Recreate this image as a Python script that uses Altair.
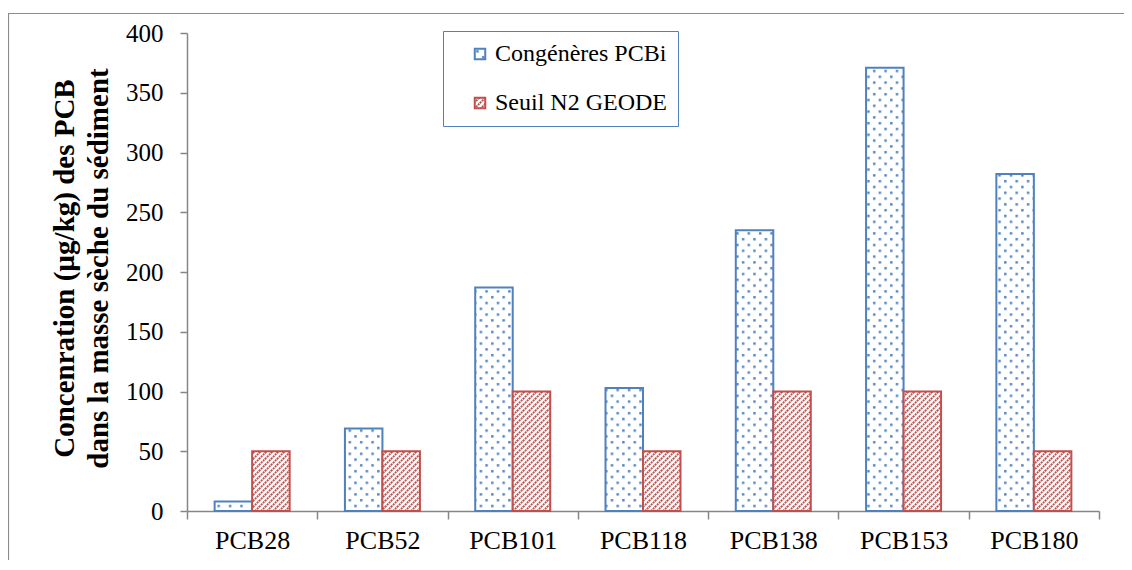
import altair as alt
import pandas as pd

# ---------------- data ----------------
categories = ["PCB28", "PCB52", "PCB101", "PCB118", "PCB138", "PCB153", "PCB180"]
series = ["Congénères PCBi", "Seuil N2 GEODE"]
pcbi_values = [8, 69, 187, 103, 235, 371, 282]
seuil_values = [50, 50, 100, 50, 100, 100, 50]
y_ticks = [0, 50, 100, 150, 200, 250, 300, 350, 400]
y_title = ["Concenration (µg/kg) des PCB", "dans la masse sèche du sédiment"]

rows = []
for c, v in zip(categories, pcbi_values):
    rows.append({"PCB": c, "Série": series[0], "Valeur": v})
for c, v in zip(categories, seuil_values):
    rows.append({"PCB": c, "Série": series[1], "Valeur": v})
df = pd.DataFrame(rows)

BLUE = "#4f81bd"
RED = "#c0504d"
GREY = "#868686"
FONT = "Liberation Serif"

# pattern fills (SVG patterns, with a plain fallback colour)
DOTS = "url(#pcbdots) #e8eef7"
HATCH = "url(#pcbhatch) #f3dede"

DEFS = """
<svg width="0" height="0" style="position:absolute;width:0;height:0;overflow:hidden" aria-hidden="true">
<defs>
<pattern id="pcbdots" patternUnits="userSpaceOnUse" width="11.4" height="11.6">
<rect width="11.4" height="11.6" fill="#ffffff"/>
<rect x="2" y="2" width="2.4" height="2.4" fill="#4f81bd"/>
<rect x="7.7" y="7.8" width="2.4" height="2.4" fill="#4f81bd"/>
</pattern>
<pattern id="pcbhatch" patternUnits="userSpaceOnUse" width="6" height="6">
<rect width="6" height="6" fill="#ffffff"/>
<path d="M-1,1 l2,-2 M0,6 l6,-6 M5,7 l2,-2" stroke="#c0504d" stroke-width="1.8" stroke-dasharray="2,0.8"/>
</pattern>
</defs>
</svg>
"""

try:
    import altair.utils.html as _h
    _orig_tpl = _h.TEMPLATES["standard"]

    class _PatternTemplate:
        def render(self, *a, **k):
            html = _orig_tpl.render(*a, **k)
            if "<body>" in html:
                return html.replace("<body>", "<body>" + DEFS, 1)
            return html.replace("</body>", DEFS + "</body>", 1)

    _h.TEMPLATES["standard"] = _PatternTemplate()
except Exception:
    pass

legend = alt.Legend(
    title=None,
    orient="none",
    legendX=256,
    legendY=-2,
    padding=11,
    rowPadding=25,
    symbolType="square",
    symbolSize=110,
    symbolStrokeWidth=2,
    symbolOffset=14,
    labelFont=FONT,
    labelFontSize=24,
    labelColor="black",
    labelOffset=3,
    labelLimit=400,
    labelExpr="datum.label + '\u2003'",
    strokeColor=BLUE,
)

bars = alt.Chart(df).mark_bar(strokeWidth=2).encode(
    x=alt.X(
        "PCB:N",
        sort=categories,
        scale=alt.Scale(paddingInner=0, paddingOuter=0),
        axis=alt.Axis(
            title=None,
            labelAngle=0,
            tickBand="extent",
            tickSize=8,
            labelPadding=8,
            labelFontSize=26,
        ),
    ),
    xOffset=alt.XOffset(
        "Série:N", sort=series, scale=alt.Scale(paddingInner=0, paddingOuter=0.737)
    ),
    y=alt.Y(
        "Valeur:Q",
        scale=alt.Scale(domain=[0, 400], nice=False),
        axis=alt.Axis(
            values=y_ticks,
            title=y_title,
            tickSize=7,
            labelPadding=17,
            labelFontSize=25,
            titleFontSize=29,
            titleFontWeight="bold",
            titleLineHeight=34,
            titleAngle=-90,
            titleX=-123,
            titleY=235,
            titleAlign="center",
            titleBaseline="middle",
        ),
    ),
    fill=alt.Fill(
        "Série:N", sort=series,
        scale=alt.Scale(domain=series, range=[DOTS, HATCH]),
        legend=legend,
    ),
    stroke=alt.Stroke(
        "Série:N", sort=series,
        scale=alt.Scale(domain=series, range=[BLUE, RED]),
        legend=legend,
    ),
)

border = alt.Chart(pd.DataFrame({"k": [0]})).mark_rect(
    fill="transparent", stroke="#8c8c8c", strokeWidth=1.2
).encode(
    x=alt.value(-178.5), x2=alt.value(1100), y=alt.value(-19.5), y2=alt.value(700)
)

chart = (
    alt.layer(border, bars)
    .properties(
        width=912,
        height=478,
        padding={"left": 179, "top": 25, "right": 25, "bottom": 49},
        autosize=alt.AutoSizeParams(type="none"),
        background="white",
    )
    .configure_view(stroke=None)
    .configure_axis(
        grid=False,
        domainColor=GREY,
        domainWidth=1.5,
        tickColor=GREY,
        tickWidth=1.5,
        labelFont=FONT,
        labelColor="black",
        titleFont=FONT,
        titleColor="black",
    )
)

chart.save("out.html", embed_options={"renderer": "svg", "actions": False})
